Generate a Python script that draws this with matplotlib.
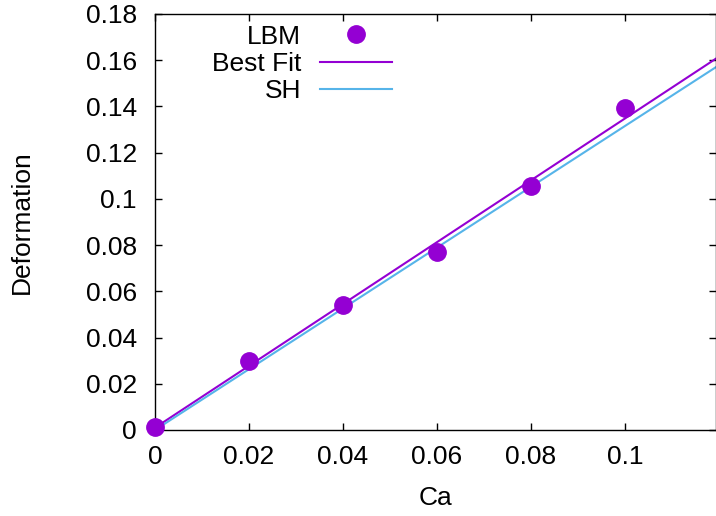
import matplotlib
matplotlib.use('Agg')
import matplotlib.pyplot as plt
import numpy as np

plt.rcParams['font.family'] = ['Liberation Sans', 'DejaVu Sans']

# LBM simulation points
ca = [0.0, 0.02, 0.04, 0.06, 0.08, 0.1]
deformation = [0.0015, 0.0300, 0.0540, 0.0772, 0.1055, 0.1395]

# straight lines, given by their end points
line_x = [0.0, 0.12]
best_fit_y = [0.0010, 0.1615]
sh_y = [0.0000, 0.1578]

purple = '#9400D3'
blue = '#56B4E9'
fs = 19

fig = plt.figure(figsize=(7.16, 5.16), dpi=100)
ax = fig.add_axes([0.2165, 0.1667, 0.7835, 0.8062])

ax.plot(ca, deformation, 'o', color=purple, markersize=12.5, clip_on=False,
        label='LBM', zorder=3)
ax.plot(line_x, best_fit_y, '-', color=purple, lw=1.5, label='Best Fit')
ax.plot(line_x, sh_y, '-', color=blue, lw=1.5, label='SH')

ax.set_xlim(0, 0.1194)
ax.set_ylim(0, 0.18)
ax.set_xticks([0, 0.02, 0.04, 0.06, 0.08, 0.1])
ax.set_xticklabels(['0', '0.02', '0.04', '0.06', '0.08', '0.1'])
ax.set_yticks(np.arange(0, 0.181, 0.02))
ax.set_yticklabels(['0', '0.02', '0.04', '0.06', '0.08', '0.1', '0.12',
                    '0.14', '0.16', '0.18'])
ax.tick_params(direction='in', length=5, width=1, top=True, right=True,
               labelsize=fs)
ax.tick_params(axis='x', pad=11)
ax.tick_params(axis='y', pad=13)
for s in ax.spines.values():
    s.set_linewidth(1)

ax.set_xlabel('Ca', fontsize=fs, labelpad=12)
ax.set_ylabel('Deformation', fontsize=fs, labelpad=37)

ax.legend(loc='upper left', bbox_to_anchor=(0.08, 1.003), markerfirst=False,
          frameon=False, fontsize=fs, handlelength=2.75, handletextpad=0.7,
          labelspacing=0.13, borderaxespad=0.05)

fig.savefig('out.png', dpi=100)
